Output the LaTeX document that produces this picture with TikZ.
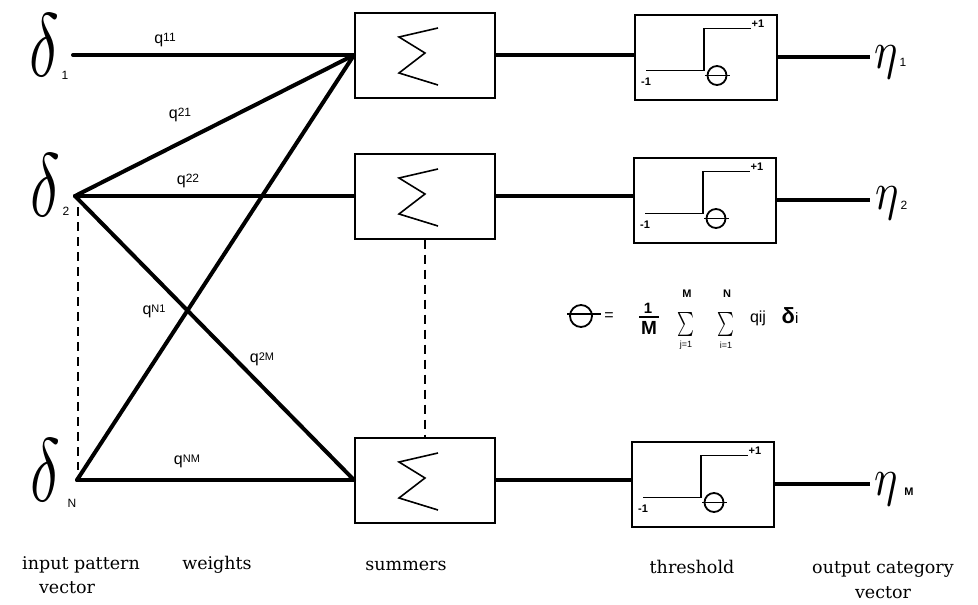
\documentclass[tikz,border=0pt]{standalone}
\usepackage{fontspec}
\setmainfont{DejaVu Serif}
\newfontfamily\sfq{Liberation Sans}
\usetikzlibrary{calc}
\begin{document}
\begin{tikzpicture}[x=1pt,y=-1pt,
  conn/.style={line width=4pt, line cap=round},
  boxs/.style={draw, line width=2pt, minimum width=140pt, minimum height=85pt, inner sep=0pt},
  stepln/.style={line width=1.6pt},
  qlab/.style={font=\sfq\fontsize{16}{16}\selectfont, inner sep=0pt},
  idx/.style={font=\sfq\fontsize{12}{12}\selectfont, inner sep=0pt},
  small/.style={font=\sfq\bfseries\fontsize{11}{11}\selectfont, inner sep=0pt},
  capt/.style={font=\fontsize{17.5}{20}\selectfont, inner sep=0pt, anchor=base},
  dlt/.style={font=\fontsize{10}{10}\selectfont, xscale=6.2, yscale=9, inner sep=0pt},
  eta/.style={font=\fontsize{10}{10}\selectfont, xscale=4.4, yscale=5.3, inner sep=0pt},
  sigm/.style={font=\fontsize{10}{10}\selectfont, xscale=1.6, yscale=2.4, inner sep=0pt},
  lim/.style={font=\sfq\fontsize{9}{9}\selectfont, inner sep=0pt},
  dashln/.style={line width=1.5pt, dash pattern=on 9pt off 6pt},
]
\useasboundingbox (0,0) rectangle (978,605);

% summers
\node[boxs] (s1) at (425,55) {};
\node[boxs] (s2) at (425,196) {};
\node[boxs] (s3) at (425,480) {};
\foreach \s in {s1,s2,s3} {
  \draw[line width=1.6pt, line join=miter]
    ($(\s.center)+(13,-27)$) -- ($(\s.center)+(-26,-18)$) -- ($(\s.center)+(0,-2)$)
    -- ($(\s.center)+(-26,18)$) -- ($(\s.center)+(13,30)$);
}

% thresholds
\node[boxs, minimum width=142pt] (t1) at (706,57) {};
\node[boxs, minimum width=142pt] (t2) at (705,200) {};
\node[boxs, minimum width=142pt] (t3) at (703,484) {};
\foreach \t in {t1,t2,t3} {
  \draw[stepln] ($(\t.north west)+(12,57)$) -- ($(\t.north west)+(70,57)$)
     -- ($(\t.north west)+(70,15)$) -- ($(\t.north west)+(117,15)$);
  \node[small] at ($(\t.north west)+(124,10)$) {+1};
  \node[small] at ($(\t.north west)+(12,68)$) {-1};
  \draw[line width=1.8pt] ($(\t.north west)+(83,62)$) circle (9.5pt);
  \draw[line width=1.6pt] ($(\t.north west)+(71,62)$) -- ($(\t.north west)+(96,62)$);
}

% inputs
\coordinate (i1) at (73,55);
\coordinate (i2) at (75,196);
\coordinate (iN) at (77,480);
\node[dlt] (d1) at (44,45) {$\delta$};
\node[dlt] (d2) at (45,185) {$\delta$};
\node[dlt] (dN) at (45,470) {$\delta$};
\node[idx] at (65,75) {1};
\node[idx] at (66,211) {2};
\node[idx] at (72,503) {N};

% weight connectors
\draw[conn] (i1) -- (s1.west);
\draw[conn] (i2) -- (s1.west);
\draw[conn] (iN) -- (s1.west);
\draw[conn] (i2) -- (s2.west);
\draw[conn] (i2) -- (s3.west);
\draw[conn] (iN) -- (s3.west);

% dashed
\coordinate (dv1) at (78,207);
\coordinate (dv2) at (78,470);
\draw[dashln] (dv1) -- (dv2);
\draw[dashln] (s2.south) -- (s3.north);

% weight labels
\node[qlab] at (165,40) {q\raisebox{2pt}{\fontsize{12}{12}\selectfont 11}};
\node[qlab] at (180,115) {q\raisebox{2pt}{\fontsize{12}{12}\selectfont 21}};
\node[qlab] at (188,181) {q\raisebox{2pt}{\fontsize{12}{12}\selectfont 22}};
\node[qlab] at (154,311) {q\raisebox{2pt}{\fontsize{11}{11}\selectfont N1}};
\node[qlab] at (262,359) {q\raisebox{2pt}{\fontsize{11}{11}\selectfont 2M}};
\node[qlab] at (187,461) {q\raisebox{2pt}{\fontsize{11}{11}\selectfont NM}};

% summer -> threshold
\draw[line width=4.5pt] (s1.east) -- (s1.east -| t1.west);
\draw[line width=4.5pt] (s2.east) -- (s2.east -| t2.west);
\draw[line width=4.5pt] (s3.east) -- (s3.east -| t3.west);

% outputs
\coordinate (o1) at (870,57);
\coordinate (o2) at (870,200);
\coordinate (oM) at (870,484);
\draw[line width=4.5pt] (t1.east) -- (o1);
\draw[line width=4.5pt] (t2.east) -- (o2);
\draw[line width=4.5pt] (t3.east) -- (oM);
\node[eta] (e1) at (886,62) {$\eta$};
\node[eta] (e2) at (887,203) {$\eta$};
\node[eta] (eM) at (886,489) {$\eta$};
\node[idx] at (903,62) {1};
\node[idx] at (904,205) {2};
\node[idx, font=\sfq\bfseries\fontsize{11}{11}\selectfont] at (909,492) {M};

% formula
\draw[line width=1.8pt] (581,316) circle (11pt);
\draw[line width=1.8pt] (567,314) -- (601,314);
\node[font=\sfq\fontsize{16}{16}\selectfont, inner sep=0pt] at (609,317) {=};
\node[font=\sfq\bfseries\fontsize{15}{15}\selectfont, inner sep=0pt] at (648,308) {1};
\draw[line width=1.5pt] (639,317) -- (659,317);
\node[font=\sfq\bfseries\fontsize{19}{19}\selectfont, inner sep=0pt] at (649,328) {M};
\node[sigm] at (686,324) {$\sum$};
\node[lim, font=\sfq\bfseries\fontsize{11}{11}\selectfont] at (687,294) {M};
\node[lim] at (686,345) {j=1};
\node[sigm] at (726,324) {$\sum$};
\node[lim, font=\sfq\bfseries\fontsize{11}{11}\selectfont] at (727,294) {N};
\node[lim] at (726,345) {i=1};
\node[font=\sfq\fontsize{16}{16}\selectfont, inner sep=0pt] at (758,318) {qij};
\node[font=\sfq\bfseries\fontsize{22}{22}\selectfont, inner sep=0pt] at (790,316) {δ\fontsize{15}{15}\selectfont\mdseries i};

% captions
\node[capt] at (81,569) {input pattern};
\node[capt] at (67,593) {vector};
\node[capt] at (217,569) {weights};
\node[capt] at (406,570) {summers};
\node[capt] at (692,573) {threshold};
\node[capt] at (883,573) {output category};
\node[capt] at (883,598) {vector};
\end{tikzpicture}
\end{document}
